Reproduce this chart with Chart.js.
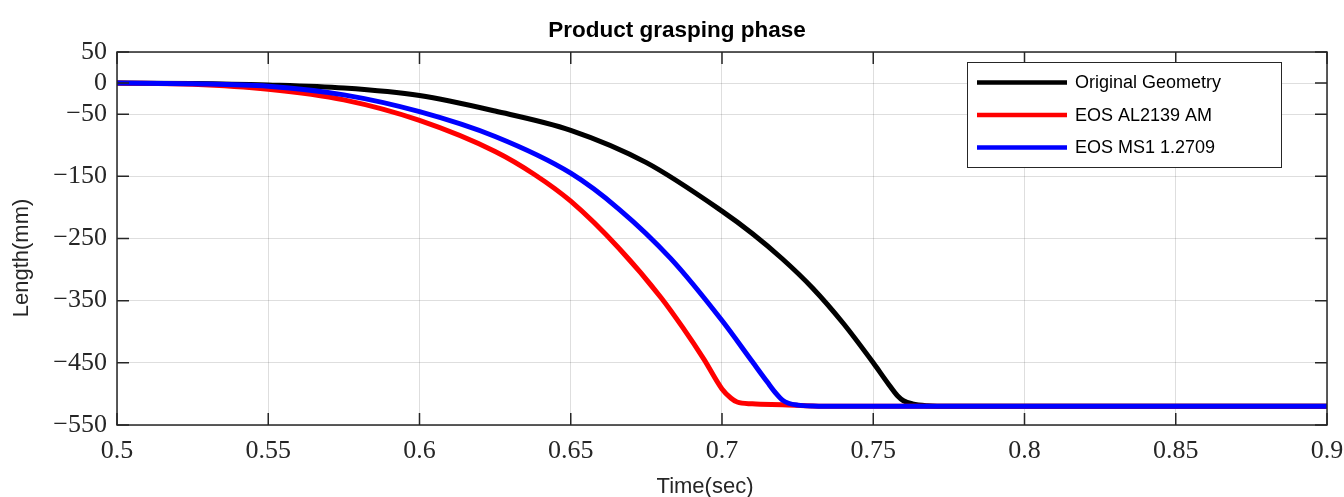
<!DOCTYPE html>
<html>
<head>
<meta charset="utf-8">
<title>Product grasping phase</title>
<script src="https://cdn.jsdelivr.net/npm/chart.js@4.4.1/dist/chart.umd.min.js"></script>
<style>
    html, body { margin: 0; padding: 0; background: #fff; }
    #contenedor { width: 1344px; height: 497px; }
</style>
</head>
<body>
<div id="contenedor"><canvas id="grafico" width="1344" height="497"></canvas></div>
<script>
window.addEventListener("DOMContentLoaded", main);

const ID_GRAFICO = "grafico";
const COLOR_EJES = "#262626";
const FUENTE_SANS = "'Liberation Sans', Arial, sans-serif";

// tiempo (s) y longitud (mm) de cada caso
const tiempoOriginal = [0.5, 0.525, 0.55, 0.575, 0.6, 0.625, 0.65, 0.675, 0.7, 0.71, 0.72, 0.73, 0.74, 0.75, 0.755, 0.758, 0.76, 0.763, 0.768, 0.775, 0.8, 0.85, 0.9];
const longitudOriginal = [0, -0.5, -3, -8, -20, -45, -76, -128, -206, -242, -283, -330, -386, -450, -484, -503, -511, -516, -519, -520, -520, -520, -520];

const tiempoAL2139 = [0.5, 0.525, 0.55, 0.575, 0.6, 0.625, 0.638, 0.65, 0.666, 0.68, 0.687, 0.694, 0.7, 0.703, 0.705, 0.71, 0.72, 0.73, 0.74, 0.8, 0.85, 0.9];
const longitudAL2139 = [0, -2, -10, -27, -60, -110, -147, -190, -266, -346, -393, -444, -492, -507, -513, -516, -517.5, -519.5, -520, -520, -520, -520];

const tiempoMS1 = [0.5, 0.525, 0.55, 0.575, 0.6, 0.625, 0.65, 0.666, 0.683, 0.7, 0.71, 0.715, 0.718, 0.72, 0.722, 0.725, 0.73, 0.74, 0.8, 0.85, 0.9];
const longitudMS1 = [0, -1, -5, -19, -46, -86, -145, -203, -282, -382, -448, -481, -500, -510, -515, -518, -519.5, -520, -520, -520, -520];

const etiquetasSeries = ["Original Geometry", "EOS AL2139 AM", "EOS MS1 1.2709"];
const coloresSeries = ["#000000", "#ff0000", "#0000ff"];

// marcas de los ejes
const marcasX = [0.5, 0.55, 0.6, 0.65, 0.7, 0.75, 0.8, 0.85, 0.9];
const marcasY = [50, 0, -50, -150, -250, -350, -450, -550];

const TITULO = "Product grasping phase";
const TITULO_X = "Time(sec)";
const TITULO_Y = "Length(mm)";

function puntos(tiempos, valores){
    return tiempos.map((t, i) => ({x: t, y: valores[i]}));
}

// marco cerrado con las marcas hacia dentro, en los cuatro lados
const pluginMarco = {
    id: "marco",
    afterDatasetsDraw(chart){
        const {ctx, chartArea: a, scales} = chart;
        const largo = 12;
        ctx.save();
        ctx.strokeStyle = COLOR_EJES;
        ctx.lineWidth = 1.5;
        ctx.strokeRect(a.left, a.top, a.right - a.left, a.bottom - a.top);
        ctx.beginPath();
        for(const v of marcasX){
            const px = scales.x.getPixelForValue(v);
            ctx.moveTo(px, a.bottom); ctx.lineTo(px, a.bottom - largo);
            ctx.moveTo(px, a.top); ctx.lineTo(px, a.top + largo);
        }
        for(const v of marcasY){
            const py = scales.y.getPixelForValue(v);
            ctx.moveTo(a.left, py); ctx.lineTo(a.left + largo, py);
            ctx.moveTo(a.right, py); ctx.lineTo(a.right - largo, py);
        }
        ctx.stroke();
        ctx.restore();
    }
};

// titulo y rotulos de los ejes
const pluginRotulos = {
    id: "rotulos",
    afterDraw(chart){
        const {ctx, chartArea: a} = chart;
        ctx.save();
        ctx.textAlign = "center";
        ctx.textBaseline = "alphabetic";

        ctx.fillStyle = "#000000";
        ctx.font = "bold 22.5px " + FUENTE_SANS;
        ctx.fillText(TITULO, a.left + 560, 37);

        ctx.fillStyle = COLOR_EJES;
        ctx.font = "22px " + FUENTE_SANS;
        ctx.fillText(TITULO_X, a.left + 588, 493);

        ctx.translate(28, a.top + 206);
        ctx.rotate(-Math.PI / 2);
        ctx.fillText(TITULO_Y, 0, 0);
        ctx.restore();
    }
};

// leyenda con recuadro dentro del area del grafico
const pluginLeyenda = {
    id: "leyendaRecuadro",
    afterDraw(chart){
        const {ctx, chartArea: a} = chart;
        const ancho = 314, alto = 105;
        const x0 = a.right - 46 - ancho;
        const y0 = a.top + 10;
        ctx.save();
        ctx.fillStyle = "#ffffff";
        ctx.fillRect(x0, y0, ancho, alto);
        ctx.strokeStyle = COLOR_EJES;
        ctx.lineWidth = 1;
        ctx.strokeRect(x0 + 0.5, y0 + 0.5, ancho, alto);
        ctx.font = "18px " + FUENTE_SANS;
        ctx.textBaseline = "middle";
        chart.data.datasets.forEach((ds, i) => {
            const y = y0 + 20.5 + i * 32.5;
            ctx.strokeStyle = ds.borderColor;
            ctx.lineWidth = 4.5;
            ctx.beginPath();
            ctx.moveTo(x0 + 10, y);
            ctx.lineTo(x0 + 100, y);
            ctx.stroke();
            ctx.fillStyle = "#000000";
            ctx.fillText(ds.label, x0 + 108, y + 1);
        });
        ctx.restore();
    }
};

function main(){
    const ctx = document.getElementById(ID_GRAFICO)?.getContext("2d");
    if(!ctx) return;

    const series = [
        puntos(tiempoOriginal, longitudOriginal),
        puntos(tiempoAL2139, longitudAL2139),
        puntos(tiempoMS1, longitudMS1)
    ];

    const fuenteMarcas = {family: "'Liberation Serif', 'Times New Roman', serif", size: 26};

    new Chart(ctx, {
        type: "line",
        data: {
            datasets: series.map((datos, i) => ({
                label: etiquetasSeries[i],
                data: datos,
                borderColor: coloresSeries[i],
                backgroundColor: coloresSeries[i],
                borderWidth: 5,
                pointRadius: 0,
                fill: false,
                cubicInterpolationMode: "monotone",
                borderJoinStyle: "round",
                order: 2 - i
            }))
        },
        options: {
            responsive: false,
            animation: false,
            devicePixelRatio: 1,
            layout: {padding: {left: 0, right: 17, top: 52, bottom: 0}},
            plugins: {
                legend: {display: false},
                tooltip: {enabled: false},
                title: {display: false}
            },
            scales: {
                x: {
                    type: "linear",
                    min: 0.5,
                    max: 0.9,
                    afterBuildTicks: s => { s.ticks = marcasX.map(v => ({value: v})); },
                    afterFit: s => { s.height = 72; s.paddingLeft = 0; s.paddingRight = 0; },
                    ticks: {
                        font: fuenteMarcas,
                        color: COLOR_EJES,
                        padding: 11,
                        maxRotation: 0,
                        autoSkip: false,
                        callback: v => String(v)
                    },
                    grid: {color: "rgba(0,0,0,0.13)", lineWidth: 1, drawTicks: false},
                    border: {display: false}
                },
                y: {
                    type: "linear",
                    min: -550,
                    max: 50,
                    afterBuildTicks: s => { s.ticks = marcasY.map(v => ({value: v})); },
                    afterFit: s => { s.width = 117; s.paddingTop = 0; s.paddingBottom = 0; },
                    ticks: {
                        font: fuenteMarcas,
                        color: COLOR_EJES,
                        padding: 10,
                        autoSkip: false,
                        callback: v => String(v).replace("-", "\u2212")
                    },
                    grid: {color: "rgba(0,0,0,0.13)", lineWidth: 1, drawTicks: false},
                    border: {display: false}
                }
            }
        },
        plugins: [pluginMarco, pluginRotulos, pluginLeyenda]
    });
}
</script>
</body>
</html>
